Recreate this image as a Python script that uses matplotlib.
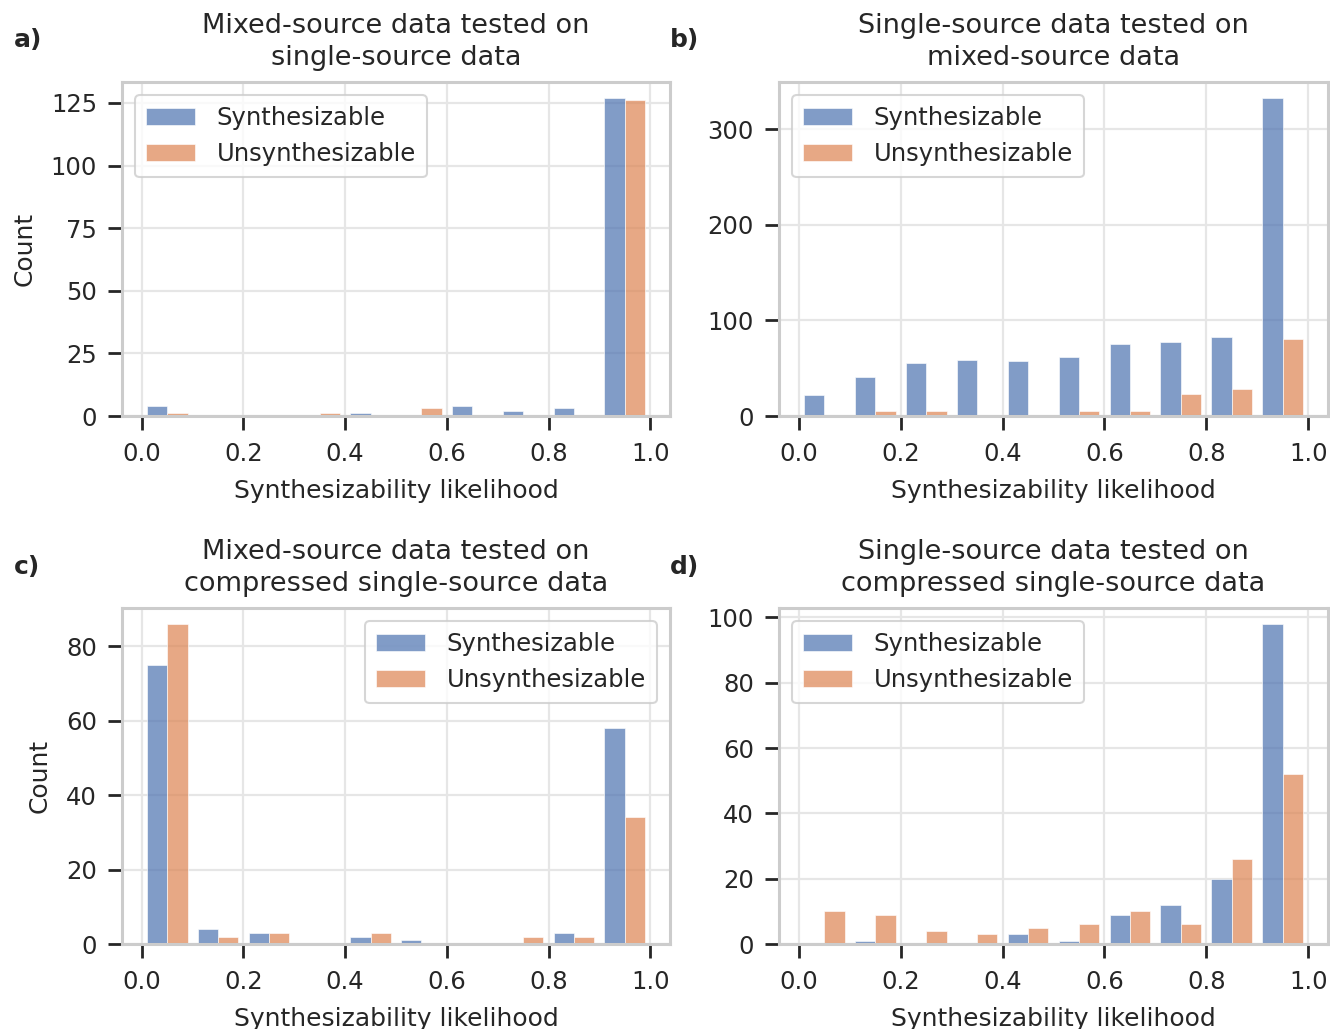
import numpy as np
import matplotlib
matplotlib.use("Agg")
import matplotlib.pyplot as plt
from matplotlib.ticker import MultipleLocator

# ── data: counts per likelihood bin (10 bins over 0..1) ──────────────────
bin_edges = np.linspace(0.0, 1.0, 11)
series_names = ["Synthesizable", "Unsynthesizable"]

titles = [
    "Mixed-source data tested on\nsingle-source data",
    "Single-source data tested on\nmixed-source data",
    "Mixed-source data tested on\ncompressed single-source data",
    "Single-source data tested on\ncompressed single-source data",
]
panel_tags = ["a)", "b)", "c)", "d)"]

synth_a = [4, 0, 0, 0, 1, 0, 4, 2, 3, 127]
unsyn_a = [1, 0, 0, 1, 0, 3, 0, 0, 0, 126]

synth_b = [22, 41, 55, 59, 58, 62, 75, 77, 83, 333]
unsyn_b = [1, 5, 5, 1, 1, 5, 5, 23, 28, 81]

synth_c = [75, 4, 3, 0, 2, 1, 0.3, 0, 3, 58]
unsyn_c = [86, 2, 3, 0, 3, 0.3, 0.3, 2, 2, 34]

synth_d = [0.3, 1, 0.3, 0.3, 3, 1, 9, 12, 20, 98]
unsyn_d = [10, 9, 4, 3, 5, 6, 10, 6, 26, 52]

y_steps = [25, 100, 20, 20]
legend_locs = ["upper left", "upper left", "upper right", "upper left"]
count_label = [True, False, True, False]

# ── style ───────────────────────────────────────────────────────────────
colors = ["#4C72B0", "#DD8452"]
ink = "#262626"
plt.rcParams["font.family"] = ["DejaVu Sans"]
plt.rcParams["text.color"] = ink
plt.rcParams["axes.labelcolor"] = ink

fig = plt.figure(figsize=(13.3, 10.29), dpi=100)

W, H = 1330, 1029
boxes = [(122, 82, 670, 416), (779, 82, 1328, 416),
         (122, 608, 670, 944), (779, 608, 1328, 944)]
tag_pos = [(14, 40), (670, 40), (14, 567), (670, 567)]

data = [(synth_a, unsyn_a), (synth_b, unsyn_b),
        (synth_c, unsyn_c), (synth_d, unsyn_d)]

bw = bin_edges[1] - bin_edges[0]
half = bw * 0.8 / 2

for i, (l, t, r, b) in enumerate(boxes):
    ax = fig.add_axes([l / W, 1 - b / H, (r - l) / W, (b - t) / H])
    left = bin_edges[:-1] + bw * 0.1
    for j, counts in enumerate(data[i]):
        ax.bar(left + j * half, counts, width=half, align="edge",
               color=colors[j], alpha=0.7, edgecolor="white", linewidth=0.6,
               label=series_names[j], zorder=2)

    ax.set_axisbelow(True)
    ax.grid(True, color="#e6e6e6", linewidth=1.6)
    for sp in ax.spines.values():
        sp.set_color("#cccccc")
        sp.set_linewidth(2.2)
    ax.xaxis.set_major_locator(MultipleLocator(0.2))
    ax.yaxis.set_major_locator(MultipleLocator(y_steps[i]))
    ax.xaxis.set_major_formatter(plt.FuncFormatter(lambda v, p: f"{v:.1f}"))
    ax.tick_params(axis="both", colors=ink, length=10, width=2,
                   labelsize=17.5, labelcolor=ink)
    ax.tick_params(axis="x", pad=9)
    ax.tick_params(axis="y", pad=8)

    ax.set_xlabel("Synthesizability likelihood", fontsize=18, labelpad=9)
    if count_label[i]:
        ax.set_ylabel("Count", fontsize=18, labelpad=10)
    ax.set_title(titles[i], fontsize=19.5, pad=12, linespacing=1.3)

    leg = ax.legend(loc=legend_locs[i], fontsize=17.5, handlelength=2.0,
                    handleheight=0.7, labelspacing=0.5, borderpad=0.45,
                    handletextpad=0.9, borderaxespad=0.55, fancybox=True,
                    framealpha=0.8)
    leg.get_frame().set_edgecolor("#cccccc")
    leg.get_frame().set_linewidth(1.5)

    tx, ty = tag_pos[i]
    fig.text(tx / W, 1 - ty / H, panel_tags[i], fontsize=18,
             fontweight="bold", va="center", ha="left")

fig.savefig("out.png", dpi=100)
